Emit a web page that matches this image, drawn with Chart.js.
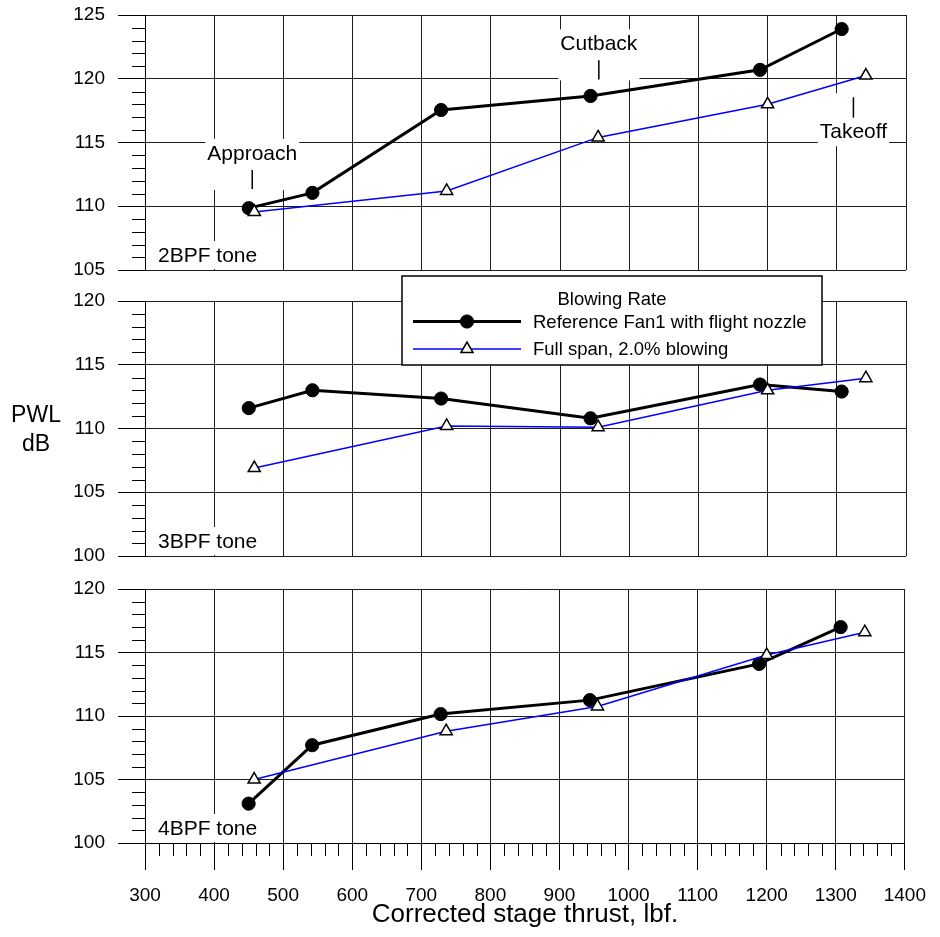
<!DOCTYPE html>
<html>
<head>
<meta charset="utf-8">
<title>PWL tones vs corrected stage thrust</title>
<script src="https://cdn.jsdelivr.net/npm/chart.js@4.4.1/dist/chart.umd.min.js"></script>
<style>
  html, body { margin: 0; padding: 0; background: #fff; overflow: hidden; }
  #wrap { position: relative; width: 940px; height: 937px; overflow: hidden; }
  #wrap canvas { position: absolute; left: 0; top: 0; }
  #wrap canvas#tone2 { top: -30px; }
</style>
</head>
<body>
<div id="wrap">
  <canvas id="tone2" width="940" height="937"></canvas>
  <canvas id="tone3" width="940" height="937"></canvas>
  <canvas id="tone4" width="940" height="937"></canvas>
</div>
<script>
// ---- data -------------------------------------------------------------
const thrustRef  = [450, 542, 728, 944, 1189, 1307];   // lbf, reference fan
const thrustBlow = [458, 736, 955, 1200, 1342];        // lbf, 2.0% blowing

const pwl2Ref  = [109.85, 111.05, 117.55, 118.65, 120.7, 123.9];
const pwl2Blow = [109.55, 111.2, 115.4, 118.0, 120.25];
const pwl3Ref  = [111.6, 113.0, 112.35, 110.8, 113.45, 112.9];
const pwl3Blow = [106.9, 110.2, 110.1, 113.0, 113.95];
const pwl4Ref  = [103.1, 107.7, 110.15, 111.25, 114.1, 117.0];
const pwl4Blow = [105.0, 108.8, 110.75, 114.8, 116.6];

const seriesNames = ['Reference Fan1 with flight nozzle', 'Full span, 2.0% blowing'];
const legendTitle = 'Blowing Rate';
const toneNames = ['2BPF tone', '3BPF tone', '4BPF tone'];

const thrustTicks = [300, 400, 500, 600, 700, 800, 900, 1000, 1100, 1200, 1300, 1400];
const pwlTicks2 = [105, 110, 115, 120, 125];
const pwlTicks3 = [100, 105, 110, 115, 120];
const pwlTicks4 = [100, 105, 110, 115, 120];

const xTitle = 'Corrected stage thrust, lbf.';
const yTitle = ['PWL', 'dB'];
const phaseNames = ['Approach', 'Cutback', 'Takeoff'];

// ---- drawing setup ----------------------------------------------------
const FONT = "'Liberation Sans', Arial, Helvetica, sans-serif";
Chart.defaults.font.family = FONT;
Chart.defaults.color = '#000';

const GRID = '#1e1e1e';

// Flight-phase callouts in the 2BPF panel: marker x (lbf), marker span (dB)
const phaseMarks = [
  { x: 455,  top: 112.85, bottom: 111.35, above: true },
  { x: 956,  top: 121.45, bottom: 119.95, above: true },
  { x: 1324, top: 118.55, bottom: 116.95, above: false }
];

function points(xs, ys) { return xs.map((x, i) => ({ x, y: ys[i] })); }

function datasets(refVals, blowVals) {
  return [
    {
      label: seriesNames[0],
      data: points(thrustRef, refVals),
      borderColor: '#000', borderWidth: 3,
      pointStyle: 'circle', pointRadius: 6.6,
      pointBackgroundColor: '#000', pointBorderColor: '#000', pointBorderWidth: 1,
      order: 1, tension: 0
    },
    {
      label: seriesNames[1],
      data: points(thrustBlow, blowVals),
      borderColor: '#0000ff', borderWidth: 1.5,
      pointStyle: 'triangle', pointRadius: 7,
      pointBackgroundColor: '#fff', pointBorderColor: '#000', pointBorderWidth: 1.5,
      order: 0, tension: 0
    }
  ];
}

// short tick marks between the labelled ones
const minorTicks = {
  id: 'minorTicks',
  afterDraw(chart, args, opts) {
    const { ctx } = chart;
    const y = chart.scales.y, x = chart.scales.x;
    ctx.save();
    ctx.strokeStyle = '#000';
    ctx.lineWidth = 1;
    ctx.beginPath();
    for (let v = y.min; v <= y.max; v += 1) {
      if (v % 5 === 0) continue;
      const p = Math.round(y.getPixelForValue(v)) + 0.5;
      ctx.moveTo(y.right - 13, p);
      ctx.lineTo(y.right, p);
    }
    if (opts.xMinor) {
      for (let v = x.min; v <= x.max; v += 20) {
        if (v % 100 === 0) continue;
        const p = Math.round(x.getPixelForValue(v)) + 0.5;
        ctx.moveTo(p, x.top);
        ctx.lineTo(p, x.top + 13);
      }
    }
    ctx.stroke();
    ctx.restore();
  }
};

// panel name in the lower-left corner, on a white patch
const toneLabel = {
  id: 'toneLabel',
  beforeDatasetsDraw(chart, args, opts) {
    const { ctx, chartArea: ca } = chart;
    ctx.save();
    ctx.font = `21px ${FONT}`;
    const w = ctx.measureText(opts.text).width;
    const x0 = ca.left + 13, base = ca.bottom - 8;
    ctx.fillStyle = '#fff';
    ctx.fillRect(x0 - 3, base - 21, w + 6, ca.bottom - 1 - (base - 21));
    ctx.fillStyle = '#000';
    ctx.textAlign = 'left';
    ctx.textBaseline = 'alphabetic';
    ctx.fillText(opts.text, x0, base);
    ctx.restore();
  }
};

// Approach / Cutback / Takeoff callouts
const phaseLabels = {
  id: 'phaseLabels',
  beforeDatasetsDraw(chart) {
    const { ctx } = chart;
    const xs = chart.scales.x, ys = chart.scales.y;
    ctx.save();
    ctx.font = `21px ${FONT}`;
    phaseMarks.forEach((m, i) => {
      const text = phaseNames[i];
      const px = xs.getPixelForValue(m.x);
      const t = ys.getPixelForValue(m.top);
      const b = ys.getPixelForValue(m.bottom);
      const w = ctx.measureText(text).width;
      const cap = 15;
      let base, boxTop, boxBottom;
      if (m.above) {
        base = t - 10;
        boxTop = base - cap - 6;
        boxBottom = b + 1;
      } else {
        base = b + 20.5;
        boxTop = t - 4;
        boxBottom = base + 8;
      }
      ctx.fillStyle = '#fff';
      ctx.fillRect(px - w / 2 - 2, boxTop, w + 4, boxBottom - boxTop);
      ctx.strokeStyle = '#000';
      ctx.lineWidth = 1.5;
      ctx.beginPath();
      ctx.moveTo(px, t);
      ctx.lineTo(px, b);
      ctx.stroke();
      ctx.fillStyle = '#000';
      ctx.textAlign = 'center';
      ctx.textBaseline = 'alphabetic';
      ctx.fillText(text, px, base);
    });
    ctx.restore();
  }
};

function drawMarker(ctx, ds, x, y) {
  ctx.fillStyle = ds.pointBackgroundColor;
  ctx.strokeStyle = ds.pointBorderColor;
  ctx.lineWidth = ds.pointBorderWidth;
  if (Chart.helpers && Chart.helpers.drawPoint) {
    Chart.helpers.drawPoint(ctx, {
      pointStyle: ds.pointStyle, radius: ds.pointRadius,
      borderWidth: ds.pointBorderWidth, rotation: 0
    }, x, y);
    return;
  }
  ctx.beginPath();
  if (ds.pointStyle === 'triangle') {
    let rad = 0;
    for (let k = 0; k < 3; k++) {
      ctx.lineTo(x + Math.sin(rad) * ds.pointRadius, y - Math.cos(rad) * ds.pointRadius);
      rad += 2 * Math.PI / 3;
    }
    ctx.closePath();
  } else {
    ctx.arc(x, y, ds.pointRadius, 0, 2 * Math.PI);
  }
  ctx.fill();
  ctx.stroke();
}

// boxed legend and the PWL / dB axis caption
const legendBox = {
  id: 'legendBox',
  afterDraw(chart) {
    const { ctx, chartArea: ca } = chart;
    const L = ca.left + 257, T = ca.top - 25, W = 420, H = 89;
    ctx.save();
    ctx.fillStyle = '#fff';
    ctx.fillRect(L, T, W, H);
    ctx.strokeStyle = '#000';
    ctx.lineWidth = 1.5;
    ctx.strokeRect(L, T, W, H);

    ctx.font = `18.5px ${FONT}`;
    ctx.fillStyle = '#000';
    ctx.textAlign = 'center';
    ctx.textBaseline = 'alphabetic';
    ctx.fillText(legendTitle, L + 210, T + 29);

    const order = [chart.data.datasets[0], chart.data.datasets[1]];
    order.forEach((ds, i) => {
      const y = T + 45.5 + i * 27.5;
      ctx.strokeStyle = ds.borderColor;
      ctx.lineWidth = ds.borderWidth;
      ctx.beginPath();
      ctx.moveTo(L + 11, y);
      ctx.lineTo(L + 119, y);
      ctx.stroke();
      drawMarker(ctx, ds, L + 65, y);
      ctx.fillStyle = '#000';
      ctx.textAlign = 'left';
      ctx.textBaseline = 'middle';
      ctx.font = `18.5px ${FONT}`;
      ctx.fillText(ds.label, L + 131, y + 1);
    });

    const mid = (ca.top + ca.bottom) / 2;
    ctx.font = `23px ${FONT}`;
    ctx.textAlign = 'center';
    ctx.textBaseline = 'alphabetic';
    ctx.fillText(yTitle[0], 36, mid - 6.5);
    ctx.fillText(yTitle[1], 36, mid + 22.5);
    ctx.restore();
  }
};

function makePanel(id, name, refVals, blowVals, yTickVals, padding, bottomAxis, extraPlugins) {
  const xScale = {
    type: 'linear',
    min: thrustTicks[0],
    max: thrustTicks[thrustTicks.length - 1],
    afterBuildTicks: s => { s.ticks = thrustTicks.map(v => ({ value: v })); },
    grid: {
      color: GRID, lineWidth: 1,
      drawTicks: bottomAxis, tickLength: 27, tickColor: '#000', tickWidth: 1
    },
    border: { display: bottomAxis, color: '#000', width: 1 },
    ticks: {
      display: bottomAxis, padding: 14, color: '#000',
      font: { size: 19 },
      callback: v => String(v)
    },
    title: {
      display: bottomAxis, text: xTitle, color: '#000',
      font: { size: 26 }, padding: { top: 0, bottom: 7 }
    },
    afterFit: s => { s.height = bottomAxis ? 94 : 0; }
  };
  const yScale = {
    type: 'linear',
    min: yTickVals[0],
    max: yTickVals[yTickVals.length - 1],
    afterBuildTicks: s => { s.ticks = yTickVals.map(v => ({ value: v })); },
    grid: {
      color: GRID, lineWidth: 1,
      drawTicks: true, tickLength: 27, tickColor: '#000', tickWidth: 1
    },
    border: { display: true, color: '#000', width: 1 },
    ticks: { padding: 13, color: '#000', font: { size: 19 }, callback: v => String(v) },
    afterFit: s => { s.width = 145; }
  };
  return new Chart(document.getElementById(id), {
    type: 'line',
    data: { datasets: datasets(refVals, blowVals) },
    options: {
      responsive: false,
      animation: false,
      devicePixelRatio: 1,
      layout: { padding: Object.assign({ left: 0, right: 34 }, padding) },
      scales: { x: xScale, y: yScale },
      plugins: {
        legend: { display: false },
        tooltip: { enabled: false },
        minorTicks: { xMinor: bottomAxis },
        toneLabel: { text: name }
      }
    },
    plugins: [minorTicks, toneLabel].concat(extraPlugins)
  });
}

// the 2BPF canvas sits 30px higher (see CSS), so its padding is offset by 30
makePanel('tone2', toneNames[0], pwl2Ref, pwl2Blow, pwlTicks2, { top: 45, bottom: 637 }, false, [phaseLabels]);
makePanel('tone3', toneNames[1], pwl3Ref, pwl3Blow, pwlTicks3, { top: 301, bottom: 381 }, false, [legendBox]);
makePanel('tone4', toneNames[2], pwl4Ref, pwl4Blow, pwlTicks4, { top: 589, bottom: 0 }, true, []);
</script>
</body>
</html>
